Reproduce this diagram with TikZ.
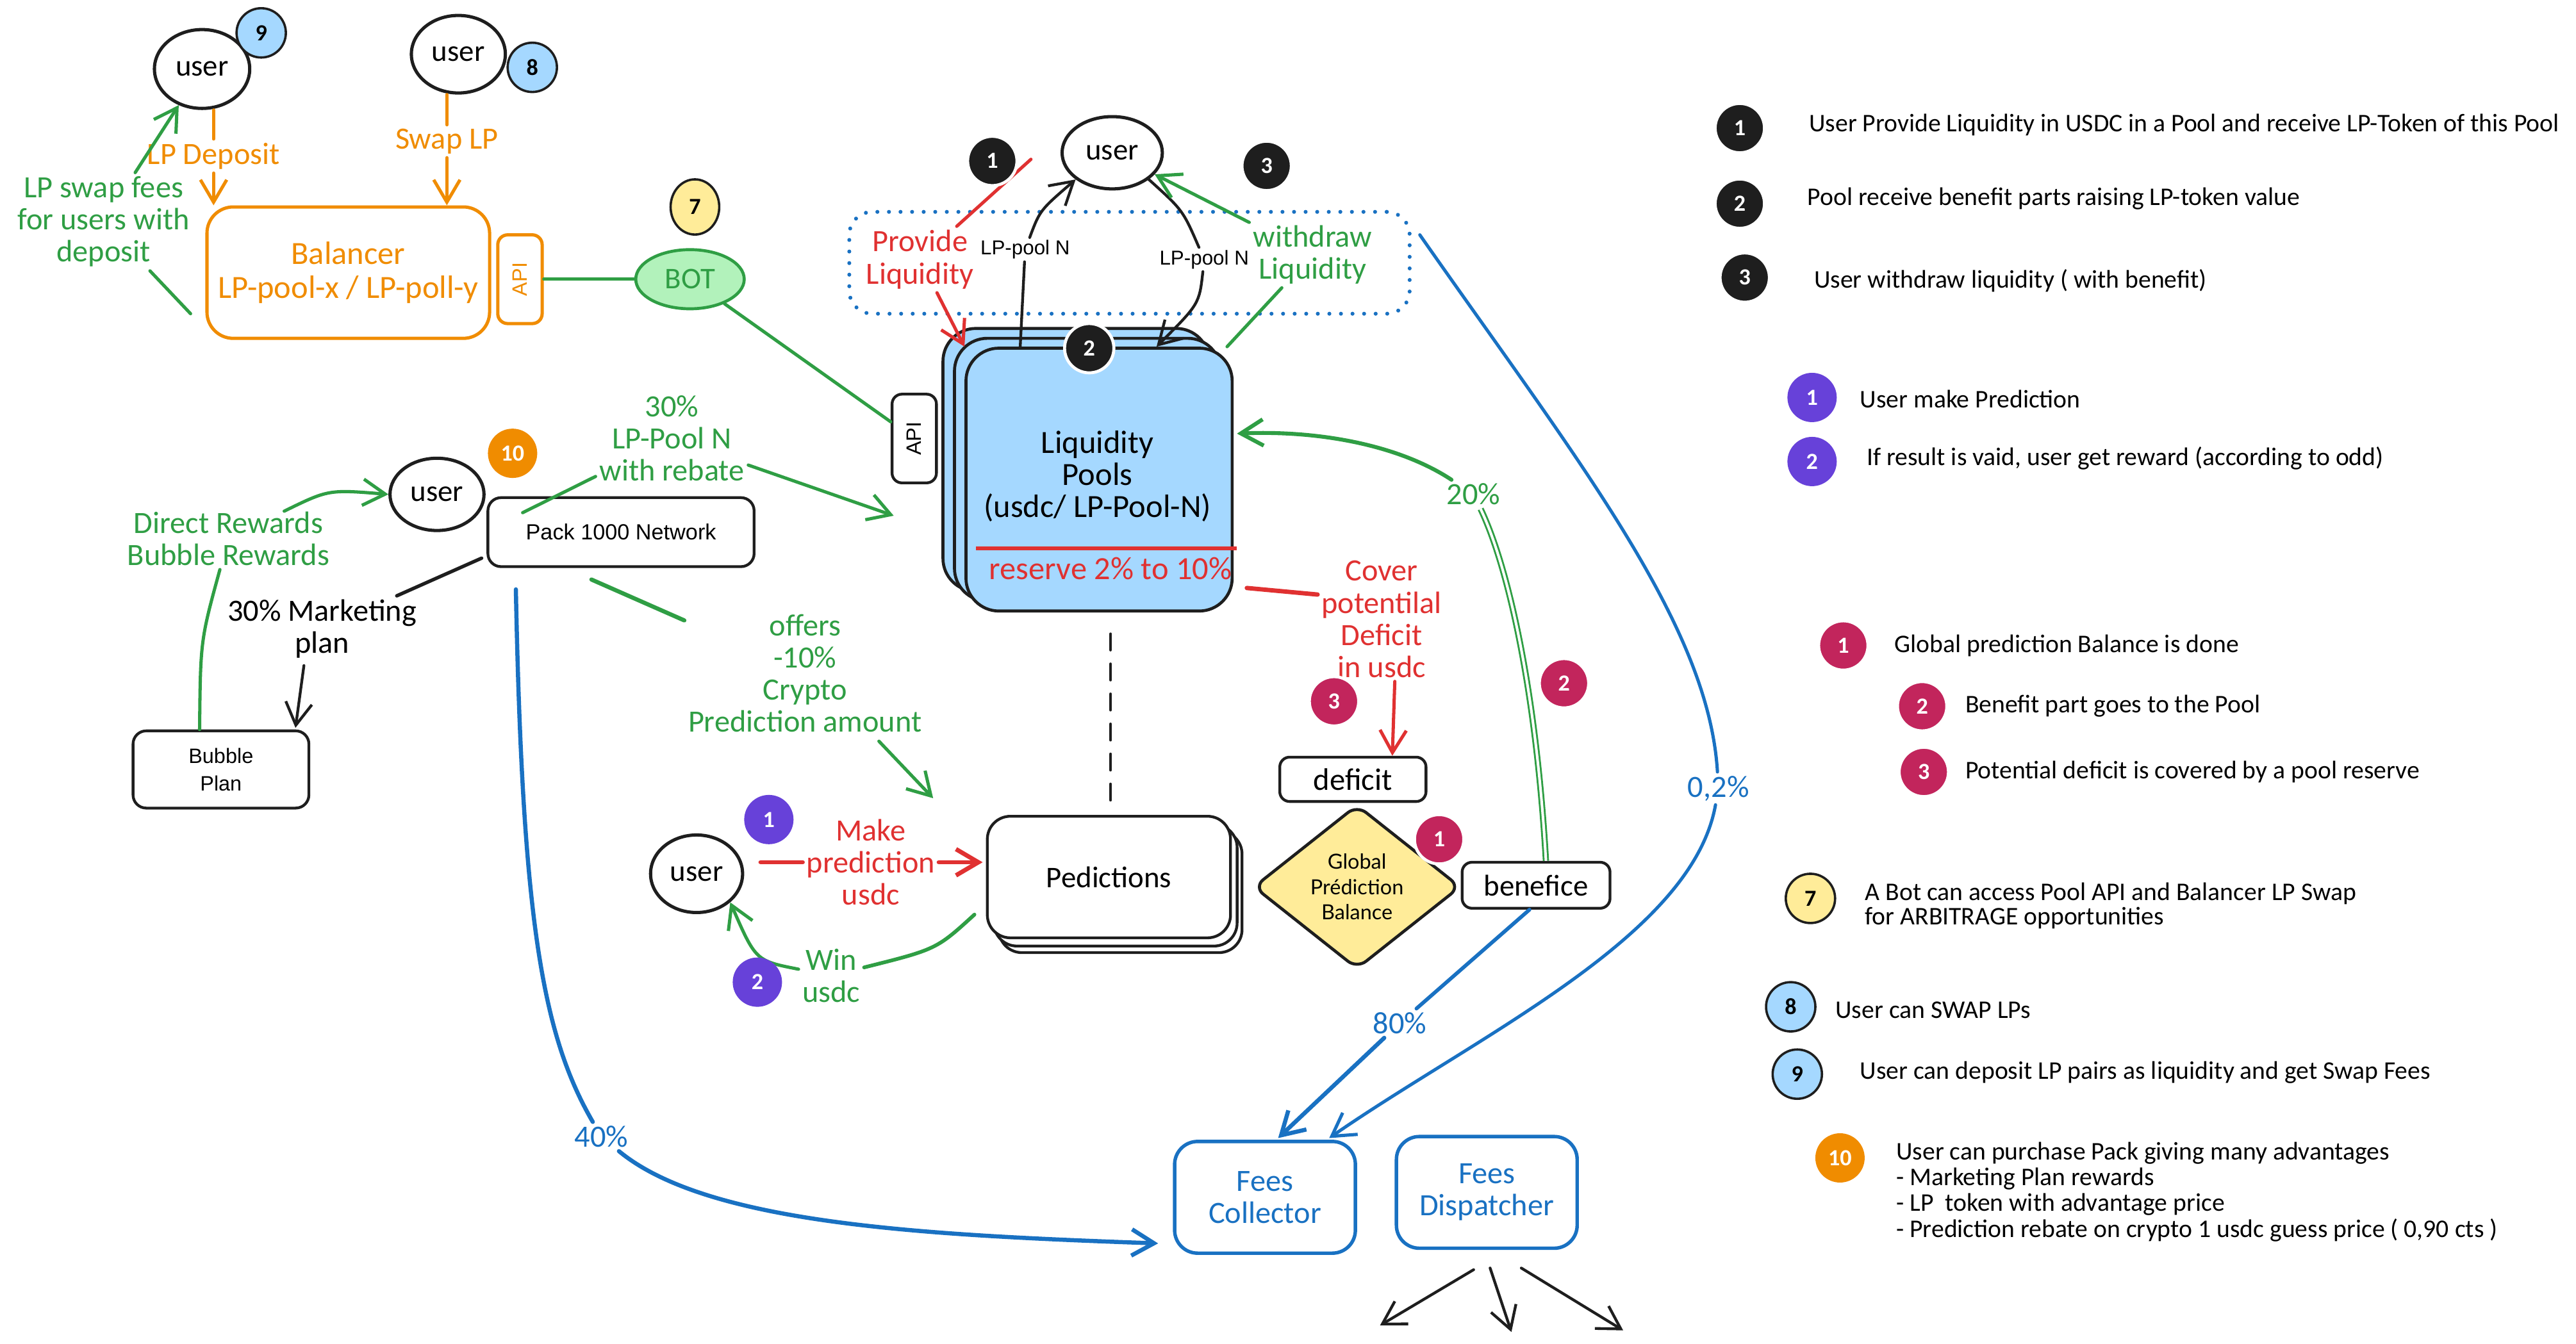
\documentclass[tikz,border=0pt]{standalone}
\usepackage{fontspec}
\setmainfont{Carlito}
\newfontfamily\arialf{Liberation Sans}
\newfontfamily\latof{Lato}
\usetikzlibrary{arrows.meta,shapes.geometric,calc}

\definecolor{ink}{HTML}{1E1E1E}
\definecolor{xred}{HTML}{E03131}
\definecolor{xgreen}{HTML}{2F9E44}
\definecolor{xblue}{HTML}{1971C2}
\definecolor{xorange}{HTML}{F08C00}
\definecolor{xlblue}{HTML}{A5D8FF}
\definecolor{xyellow}{HTML}{FFEC99}
\definecolor{xlgreen}{HTML}{B2F2BB}
\definecolor{xpurple}{HTML}{6741D9}
\definecolor{xmagenta}{HTML}{C2255C}

\newcommand{\lblfont}{\fontsize{13.4}{13.9}\selectfont}
\newcommand{\bigfont}{\fontsize{14}{13.9}\selectfont}
\newcommand{\smallsans}{\arialf\fontsize{8.7}{10}\selectfont}

\tikzset{
  arr/.style={-{Straight Barb[length=3.4mm,width=4mm]}},
  lbl/.style={font=\lblfont, align=center, inner sep=1.5pt},
  usr/.style={ellipse, draw=ink, line width=1.4pt, inner sep=0pt, fill=white,
    font=\fontsize{13}{13}\selectfont},
  box/.style={rectangle, draw=ink, line width=1.2pt, align=center, fill=white},
  badge/.style={circle, minimum size=0.75cm, inner sep=0pt,
    font=\fontsize{10}{10}\selectfont\bfseries},
  bk/.style={badge, fill=ink, text=white, draw=white, line width=1.3pt},
  mg/.style={badge, fill=xmagenta, text=white, draw=white, line width=1.3pt},
  pu/.style={badge, fill=xpurple, text=white},
  bl/.style={badge, fill=xlblue, draw=ink, line width=1pt},
  ye/.style={badge, fill=xyellow, draw=ink, line width=1pt},
  og/.style={badge, fill=xorange, text=white},
  kline/.style={draw=ink, line width=1.2pt, line cap=round},
  gline/.style={draw=xgreen, line width=1.4pt, line cap=round},
  rline/.style={draw=xred, line width=1.4pt, line cap=round},
  bline/.style={draw=xblue, line width=1.4pt, line cap=round},
  oline/.style={draw=xorange, line width=1.4pt, line cap=round},
  poolbox/.style={rectangle, rounded corners=0.5cm, draw=ink, fill=xlblue,
    line width=1.3pt, minimum width=4.05cm, minimum height=4cm},
  predbox/.style={rectangle, rounded corners=0.35cm, draw=ink, fill=white,
    line width=1.2pt, minimum width=3.7cm, minimum height=1.85cm},
  fbox/.style={rectangle, rounded corners=0.35cm, draw=xblue, text=xblue,
    line width=1.5pt, minimum width=2.75cm, minimum height=1.7cm,
    align=center, font=\lblfont},
  legtxt/.style={font=\fontsize{11}{11.2}\selectfont, inner sep=0pt, anchor=west,
    align=left},
}

\begin{document}
\begin{tikzpicture}[x=0.025cm, y=-0.025cm]
\useasboundingbox (0,0) rectangle (1568,818);
\fill[white] (0,0) rectangle (1568,818);

% ===== Balancer corner =====
\node[usr, minimum width=1.45cm, minimum height=1.2cm] (user9) at (123,42) {user};
\node[usr, minimum width=1.43cm, minimum height=1.18cm] (user8) at (279,33) {user};
\node[box, draw=xorange, text=xorange, line width=1.4pt, minimum width=4.3cm,
  minimum height=2cm, rounded corners=0.4cm, font=\bigfont] (bal) at (212,166)
  {Balancer\\[1pt]LP-pool-x / LP-poll-y};
\node[box, draw=xorange, text=xorange, line width=1.4pt, rotate=90,
  minimum width=1.35cm, minimum height=0.675cm, rounded corners=0.15cm,
  font=\arialf\fontsize{9}{9}\selectfont] (balapi) at (316.5,170) {API};
\node[ellipse, draw=xgreen, fill=xlgreen, text=xgreen, line width=1.3pt,
  minimum width=1.65cm, minimum height=0.9cm, inner sep=0pt,
  font=\fontsize{13}{13}\selectfont] (bot) at (420,170) {BOT};

\node[lbl, text=xorange] (lblDep) at (130,95) {LP Deposit};
\node[lbl, text=xorange] (lblSwap) at (272,86) {Swap LP};
\node[lbl, text=xgreen] (lblFees) at (63,135) {LP swap fees\\for users with\\deposit};

\draw[oline, arr] (user9.south -| lblDep) -- (lblDep) -- (bal.north -| lblDep);
\draw[oline, arr] (user8.south -| lblSwap) -- (lblSwap) -- (bal.north -| lblSwap);
\coordinate (feesStart) at ($(bal.south west)+(-9,-16)$);
\draw[gline, arr] (feesStart) -- (lblFees) -- (user9);
\draw[gline] (balapi) -- (bot);

% ===== Liquidity pools =====
\node[draw=xblue, line width=1.7pt, dash pattern=on 0.01pt off 5pt, line cap=round,
  rounded corners=0.35cm, minimum width=8.525cm, minimum height=1.55cm] (zone)
  at (687.5,160) {};

\node[poolbox] (pool1) at (655,280) {};
\node[poolbox] (pool2) at (662,286) {};
\node[poolbox] (pool) at (669,292) {};
\node[lbl, font=\bigfont] (poolT) at (668,290) {Liquidity\\Pools\\(usdc/ LP-Pool-N)};
\draw[xred, line width=1.6pt] ($(pool.south west)+(7,-39)$) -- ($(pool.south east)+(2,-39)$);
\node[lbl, font=\bigfont, text=xred] (reserveT) at (676,346) {reserve 2\% to 10\%};
\node[box, rotate=90, minimum width=1.35cm, minimum height=0.675cm,
  rounded corners=0.15cm, font=\arialf\fontsize{9}{9}\selectfont] (poolapi)
  at (556.5,267) {API};
\draw[gline] (bot) -- (poolapi);

\node[usr, minimum width=1.525cm, minimum height=1.1cm] (userT) at (677,93) {user};
\node[lbl, text=xred] (lblProv) at (560,158) {Provide\\Liquidity};
\node[font=\smallsans, inner sep=1pt] (lblLP1) at (624,152) {LP-pool N};
\node[font=\smallsans, inner sep=1pt] (lblLP2) at (733,158) {LP-pool N};
\node[lbl, text=xgreen] (lblWd) at (799,155) {withdraw\\Liquidity};

\draw[rline, arr] ($(userT.west)+(-18,4)$) -- (lblProv) -- (pool.north west);
\draw[kline, arr] ($(pool.north)+(-48,0)$) -- (lblLP1) .. controls (633,128) .. (userT.south west);
\draw[kline] (userT.south east) .. controls (720,128) .. (lblLP2);
\draw[kline, arr] (lblLP2) .. controls (730,185) .. ($(pool.north)+(35,0)$);
\draw[gline, arr] ($(pool.north east)+(-4,0)$) -- (lblWd) -- (userT);

% ===== Predictions =====
\node[predbox] (pred3) at (682,543) {};
\node[predbox] (pred2) at (679,539) {};
\node[predbox, font=\fontsize{13}{13}\selectfont] (pred) at (675,534) {Pedictions};
\draw[kline, dash pattern=on 7pt off 6pt] ($(pool.south)+(7,13)$) -- ($(pred.north)+(1,-7)$);

\node[usr, minimum width=1.4cm, minimum height=1.18cm] (userP) at (424,532) {user};
\node[lbl, text=xred] (lblMake) at (530,525) {Make\\prediction\\usdc};
\node[lbl, text=xgreen] (lblWin) at (506,594) {Win\\usdc};
\draw[rline, line width=1.9pt, arr] ($(userP.east |- lblMake)+(10,0)$) -- (lblMake) -- ($(pred.west |- lblMake)+(-2,0)$);
\draw[gline, line width=1.6pt] ($(pred.south west)+(-7,-15)$) .. controls (570,578) .. (lblWin);
\draw[gline, arr] (lblWin) .. controls (460,585) .. (userP.south east);

% ===== Balance, deficit, benefice =====
\node[box, minimum width=2.225cm, minimum height=0.675cm, rounded corners=0.15cm,
  font=\fontsize{13.5}{13.5}\selectfont] (deficit) at (823.5,474.5) {deficit};
\node[diamond, draw=ink, fill=xyellow, line width=1.3pt, aspect=1.3, inner sep=0pt,
  minimum width=3.15cm, minimum height=2.5cm, rounded corners=5pt, align=center,
  font=\latof\fontsize{9}{11}\selectfont] (gpb) at (826,540) {Global\\Prédiction\\Balance};
\node[box, minimum width=2.25cm, minimum height=0.7cm, rounded corners=0.15cm,
  font=\fontsize{13}{13}\selectfont] (benef) at (935,539) {benefice};

\node[lbl, text=xred] (lblCover) at (841,377) {Cover\\potentilal\\Deficit\\in usdc};
\draw[rline, line width=1.9pt] ($(pool.east)+(8,66)$) -- ($(lblCover.west)+(0,-15)$);
\draw[rline, arr] ($(lblCover.south)+(8,0)$) -- ($(deficit.north)+(24,0)$);

\node[lbl, text=xgreen] (lbl20) at (897,301) {20\%};
\draw[xgreen, double=white, double distance=1.1pt, line width=0.8pt]
  ($(benef.north)+(6,0)$) .. controls (935,420) and (918,345) .. (lbl20);
\draw[gline, line width=1.7pt, arr] (lbl20) .. controls (850,270) and (800,262) .. ($(pool.east)+(2,-28)$);

% ===== Fees =====
\node[fbox] (fc) at (770,729) {Fees\\Collector};
\node[fbox] (fd) at (905,726) {Fees\\Dispatcher};

\node[lbl, text=xblue] (lbl02) at (1046,480) {0,2\%};
\draw[bline] ($(zone.east)+(5,-17)$) .. controls (960,280) and (1040,380) .. (lbl02);
\draw[bline, arr] (lbl02) .. controls (1030,570) and (900,630) .. ($(fc.north east)+(-17,-1)$);

\node[lbl, text=xblue] (lbl80) at (852,623) {80\%};
\draw[bline, line width=1.6pt] ($(benef.south)+(-4,0)$) -- (lbl80);
\draw[bline, line width=1.8pt, arr] (lbl80) -- ($(fc.north)+(8,-1)$);

\coordinate (out1) at (840,807);
\coordinate (out2) at (920,811);
\coordinate (out3) at (988,810);
\draw[kline, arr] ($(fd.south)+(-8,12)$) -- (out1);
\draw[kline, arr] ($(fd.south)+(2,11)$) -- (out2);
\draw[kline, arr] ($(fd.south)+(21,11)$) -- (out3);

% ===== Pack and marketing =====
\node[box, minimum width=4.05cm, minimum height=1.05cm, rounded corners=0.2cm,
  font=\arialf\fontsize{9.5}{10}\selectfont] (pack) at (378,324) {Pack 1000 Network};
\node[usr, minimum width=1.43cm, minimum height=1.1cm] (userK) at (266,301) {user};
\node[box, minimum width=2.675cm, minimum height=1.175cm, rounded corners=0.2cm,
  font=\arialf\fontsize{9}{12}\selectfont] (bubble) at (134.5,468.5) {Bubble\\Plan};

\node[lbl, text=xgreen] (lblDirect) at (139,328) {Direct Rewards\\Bubble Rewards};
\node[lbl] (lblMkt) at (196,383) {30\% Marketing\\plan};
\node[lbl, text=xgreen] (lblLPn) at (409,267) {30\%\\LP-Pool N\\with rebate};
\node[lbl, text=xgreen] (lblOffers) at (490,410) {offers\\-10\%\\Crypto\\Prediction amount};
\node[lbl, text=xblue] (lbl40) at (366,692) {40\%};

\draw[gline] ($(bubble.north)+(-13,0)$) .. controls (122,390) .. (lblDirect);
\draw[gline, arr] ($(lblDirect.north)+(34,2)$) .. controls (200,298) .. (userK.west);
\draw[kline, line width=1.5pt] ($(pack.south west)+(-3,-6)$) -- (lblMkt);
\draw[kline, arr] ($(lblMkt.south)+(-11,2)$) -- ($(bubble.north east)+(-9,-1)$);

\coordinate (lpnEnd) at (544,314);
\draw[gline] ($(pack.north west)+(22,10)$) -- (lblLPn);
\draw[gline, arr] (lblLPn) -- (lpnEnd);

\coordinate (offEnd) at (568,486);
\draw[gline, line width=1.8pt] ($(pack.south)+(-18,7)$) -- (lblOffers);
\draw[gline, arr] ($(lblOffers.south)+(45,3)$) -- (offEnd);

\draw[bline, line width=1.8pt] ($(pack.south)+(-64,13)$) .. controls (318,560) and (330,630) .. (lbl40);
\draw[bline, line width=1.8pt, arr] (lbl40) .. controls (430,745) and (560,752) .. ($(fc.south west)+(-9,-7)$);

% ===== Badges in the diagram =====
\node[bl] (b9) at (159,20) {9};
\node[bl] (b8) at (324,41) {8};
\node[ye, ellipse, minimum width=0.74cm, minimum height=0.84cm] (b7) at (423,126) {7};
\node[og] (b10) at (312,276) {10};
\node[bk] (bP1) at (604,98) {1};
\node[bk] (bP3) at (771,101) {3};
\node[bk] (bP2) at (663,212) {2};
\node[pu] (bU1) at (468,499) {1};
\node[pu] (bU2) at (461,598) {2};
\node[mg] (bG3) at (812,427) {3};
\node[mg] (bG2) at (952,416) {2};
\node[mg] (bG1) at (876,511) {1};

% ===== Legend =====
\node[bk] (lg1) at (1059,78) {1};
\node[legtxt] (lt1) at (1101,76) {User Provide Liquidity in USDC in a Pool and receive LP-Token of this Pool};
\node[bk] (lg2) at (1059,124) {2};
\node[legtxt] (lt2) at (1100,121) {Pool receive benefit parts raising LP-token value};
\node[bk] (lg3) at (1062,169) {3};
\node[legtxt] (lt3) at (1104,171) {User withdraw liquidity ( with benefit)};

\node[pu] (lp1) at (1103,242) {1};
\node[legtxt] (lp1t) at (1132,243) {User make Prediction};
\node[pu] (lp2) at (1103,281) {2};
\node[legtxt] (lp2t) at (1136,279) {If result is vaid, user get reward (according to odd)};

\node[mg] (lm1) at (1122,393) {1};
\node[legtxt] (lm1t) at (1153,393) {Global prediction Balance is done};
\node[mg] (lm2) at (1170,430) {2};
\node[legtxt] (lm2t) at (1196,430) {Benefit part goes to the Pool};
\node[mg] (lm3) at (1171,470) {3};
\node[legtxt] (lm3t) at (1196,470) {Potential deficit is covered by a pool reserve};

\node[ye] (ly7) at (1102,547) {7};
\node[legtxt, font=\fontsize{11}{10.8}\selectfont] (ly7t) at (1135,551.5) {A Bot can access Pool API and Balancer LP Swap\\for ARBITRAGE opportunities};
\node[bl] (lb8) at (1090,613) {8};
\node[legtxt] (lb8t) at (1117,615) {User can SWAP LPs};
\node[bl] (lb9) at (1094,654) {9};
\node[legtxt] (lb9t) at (1132,653) {User can deposit LP pairs as liquidity and get Swap Fees};
\node[og] (lo10) at (1120,705) {10};
\node[legtxt, anchor=north west] (lo10t) at (1154,695)
  {User can purchase Pack giving many advantages\\- Marketing Plan rewards\\- LP~~token with advantage price\\- Prediction rebate on crypto 1 usdc guess price ( 0,90 cts )};

\end{tikzpicture}
\end{document}
